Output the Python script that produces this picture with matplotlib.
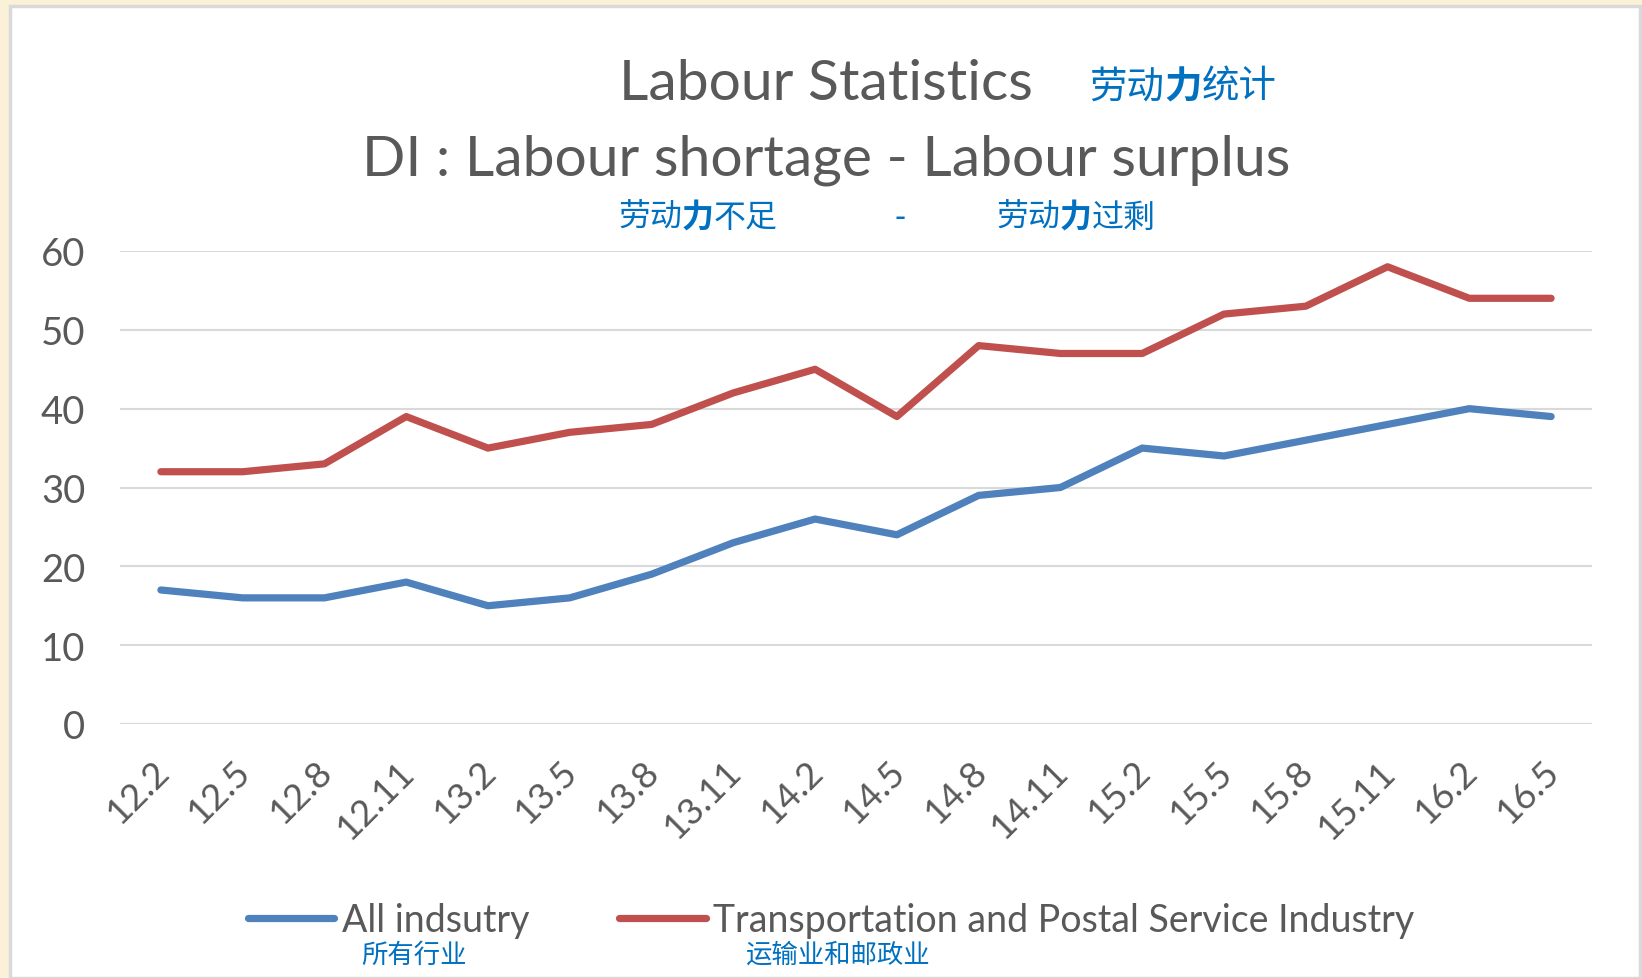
import matplotlib
matplotlib.use("Agg")
import matplotlib.pyplot as plt
from matplotlib.patches import Rectangle
from matplotlib.lines import Line2D
from matplotlib.transforms import ScaledTranslation

categories = ["12.2", "12.5", "12.8", "12.11", "13.2", "13.5", "13.8", "13.11", "14.2",
              "14.5", "14.8", "14.11", "15.2", "15.5", "15.8", "15.11", "16.2", "16.5"]
all_industry = [17, 16, 16, 18, 15, 16, 19, 23, 26, 24, 29, 30, 35, 34, 36, 38, 40, 39]
transport = [32, 32, 33, 39, 35, 37, 38, 42, 45, 39, 48, 47, 47, 52, 53, 58, 54, 54]
y_ticks = [0, 10, 20, 30, 40, 50, 60]

series_labels = ["All indsutry", "Transportation and Postal Service Industry"]
series_labels_cn = ["所有行业", "运输业和邮政业"]

BLUE = "#4F81BD"
RED = "#C0504D"
GREY = "#595959"
CNBLUE = "#0070C0"
FONT = ["Lato", "DejaVu Sans"]
CN = ["Noto Sans CJK SC", "DejaVu Sans"]

W, H = 1642, 979
fig = plt.figure(figsize=(W / 100, H / 100), dpi=100)
fig.patch.set_facecolor("#FBF0D8")
# white panel
fig.patches.append(Rectangle((10 / W, 0), (1640 - 10) / W, (H - 7) / H, transform=fig.transFigure,
                             facecolor="white", edgecolor="#D9D9D9", linewidth=2.5, zorder=-5))

ax = fig.add_axes([120 / W, 1 - 725 / H, (1592 - 120) / W, (725 - 252) / H], zorder=2)
ax.set_facecolor("none")
x = list(range(len(categories)))
ax.plot(x, all_industry, color=BLUE, lw=5.2, solid_capstyle="round", solid_joinstyle="round", zorder=3)
ax.plot(x, transport, color=RED, lw=5.2, solid_capstyle="round", solid_joinstyle="round", zorder=3)
ax.set_xlim(-0.5, len(categories) - 0.5)
ax.set_ylim(0, 60)
ax.set_yticks(y_ticks)
ax.set_xticks(x)
ax.set_xticklabels(categories, rotation=45, ha="right", rotation_mode="anchor")
ax.tick_params(axis="both", length=0, labelcolor=GREY)
ax.tick_params(axis="y", pad=25, labelsize=27.5)
ax.tick_params(axis="x", pad=21.5, labelsize=26.5)
shift = ScaledTranslation(-9 / 100, 0, fig.dpi_scale_trans)
for lab in ax.get_xticklabels():
    lab.set_family(FONT)
    lab.set_transform(lab.get_transform() + shift)
for lab in ax.get_yticklabels():
    lab.set_family(FONT)
ax.grid(axis="y", color="#D9D9D9", lw=1.5)
ax.set_axisbelow(True)
for s in ax.spines.values():
    s.set_visible(False)
ax.axhline(0, color="#D9D9D9", lw=1.5, zorder=1)

renderer = fig.canvas.get_renderer()


def rich_text(xpx, ypx, pieces, size, ha="left"):
    """Draw a run of text pieces [(text, bold), ...] side by side, in pixel coords."""
    arts = []
    for txt, bold in pieces:
        t = fig.text(0, 0, txt, ha="left", va="center", fontsize=size, color=CNBLUE,
                     family=CN, weight="bold" if bold else "normal")
        arts.append(t)
    widths = [a.get_window_extent(renderer).width for a in arts]
    total = sum(widths)
    start = xpx - total / 2 if ha == "center" else xpx
    cur = start
    for a, w in zip(arts, widths):
        a.set_position((cur / W, 1 - ypx / H))
        cur += w


# titles
fig.text(826 / W, 1 - 84 / H, "Labour Statistics", ha="center", va="center", fontsize=41,
         color=GREY, family=FONT)
rich_text(1089, 87, [("劳动", False), ("力", True), ("统计", False)], 27)
fig.text(826 / W, 1 - 160 / H, "DI : Labour shortage - Labour surplus", ha="center", va="center",
         fontsize=41, color=GREY, family=FONT)
rich_text(698, 218, [("劳动", False), ("力", True), ("不足", False)], 23, ha="center")
fig.text(900 / W, 1 - 218 / H, "-", ha="center", va="center", fontsize=23,
         color=CNBLUE, family=CN)
rich_text(1076, 218, [("劳动", False), ("力", True), ("过剩", False)], 23, ha="center")

# legend
handles = [Line2D([], [], color=BLUE, lw=5.2, solid_capstyle="round"),
           Line2D([], [], color=RED, lw=5.2, solid_capstyle="round")]
leg = fig.legend(handles, series_labels, loc="center left", bbox_to_anchor=(248 / W, 1 - 921 / H),
                 ncol=2, frameon=False, handlelength=2.3, handletextpad=0.2,
                 columnspacing=2.4, labelcolor=GREY, prop={"family": FONT, "size": 27},
                 borderpad=0, borderaxespad=0)
fig.text(361 / W, 1 - 955 / H, series_labels_cn[0], ha="left", va="center", fontsize=19,
         color=CNBLUE, family=CN)
fig.text(745 / W, 1 - 955 / H, series_labels_cn[1], ha="left", va="center", fontsize=19,
         color=CNBLUE, family=CN)

fig.savefig("out.png", dpi=100, facecolor=fig.get_facecolor())
